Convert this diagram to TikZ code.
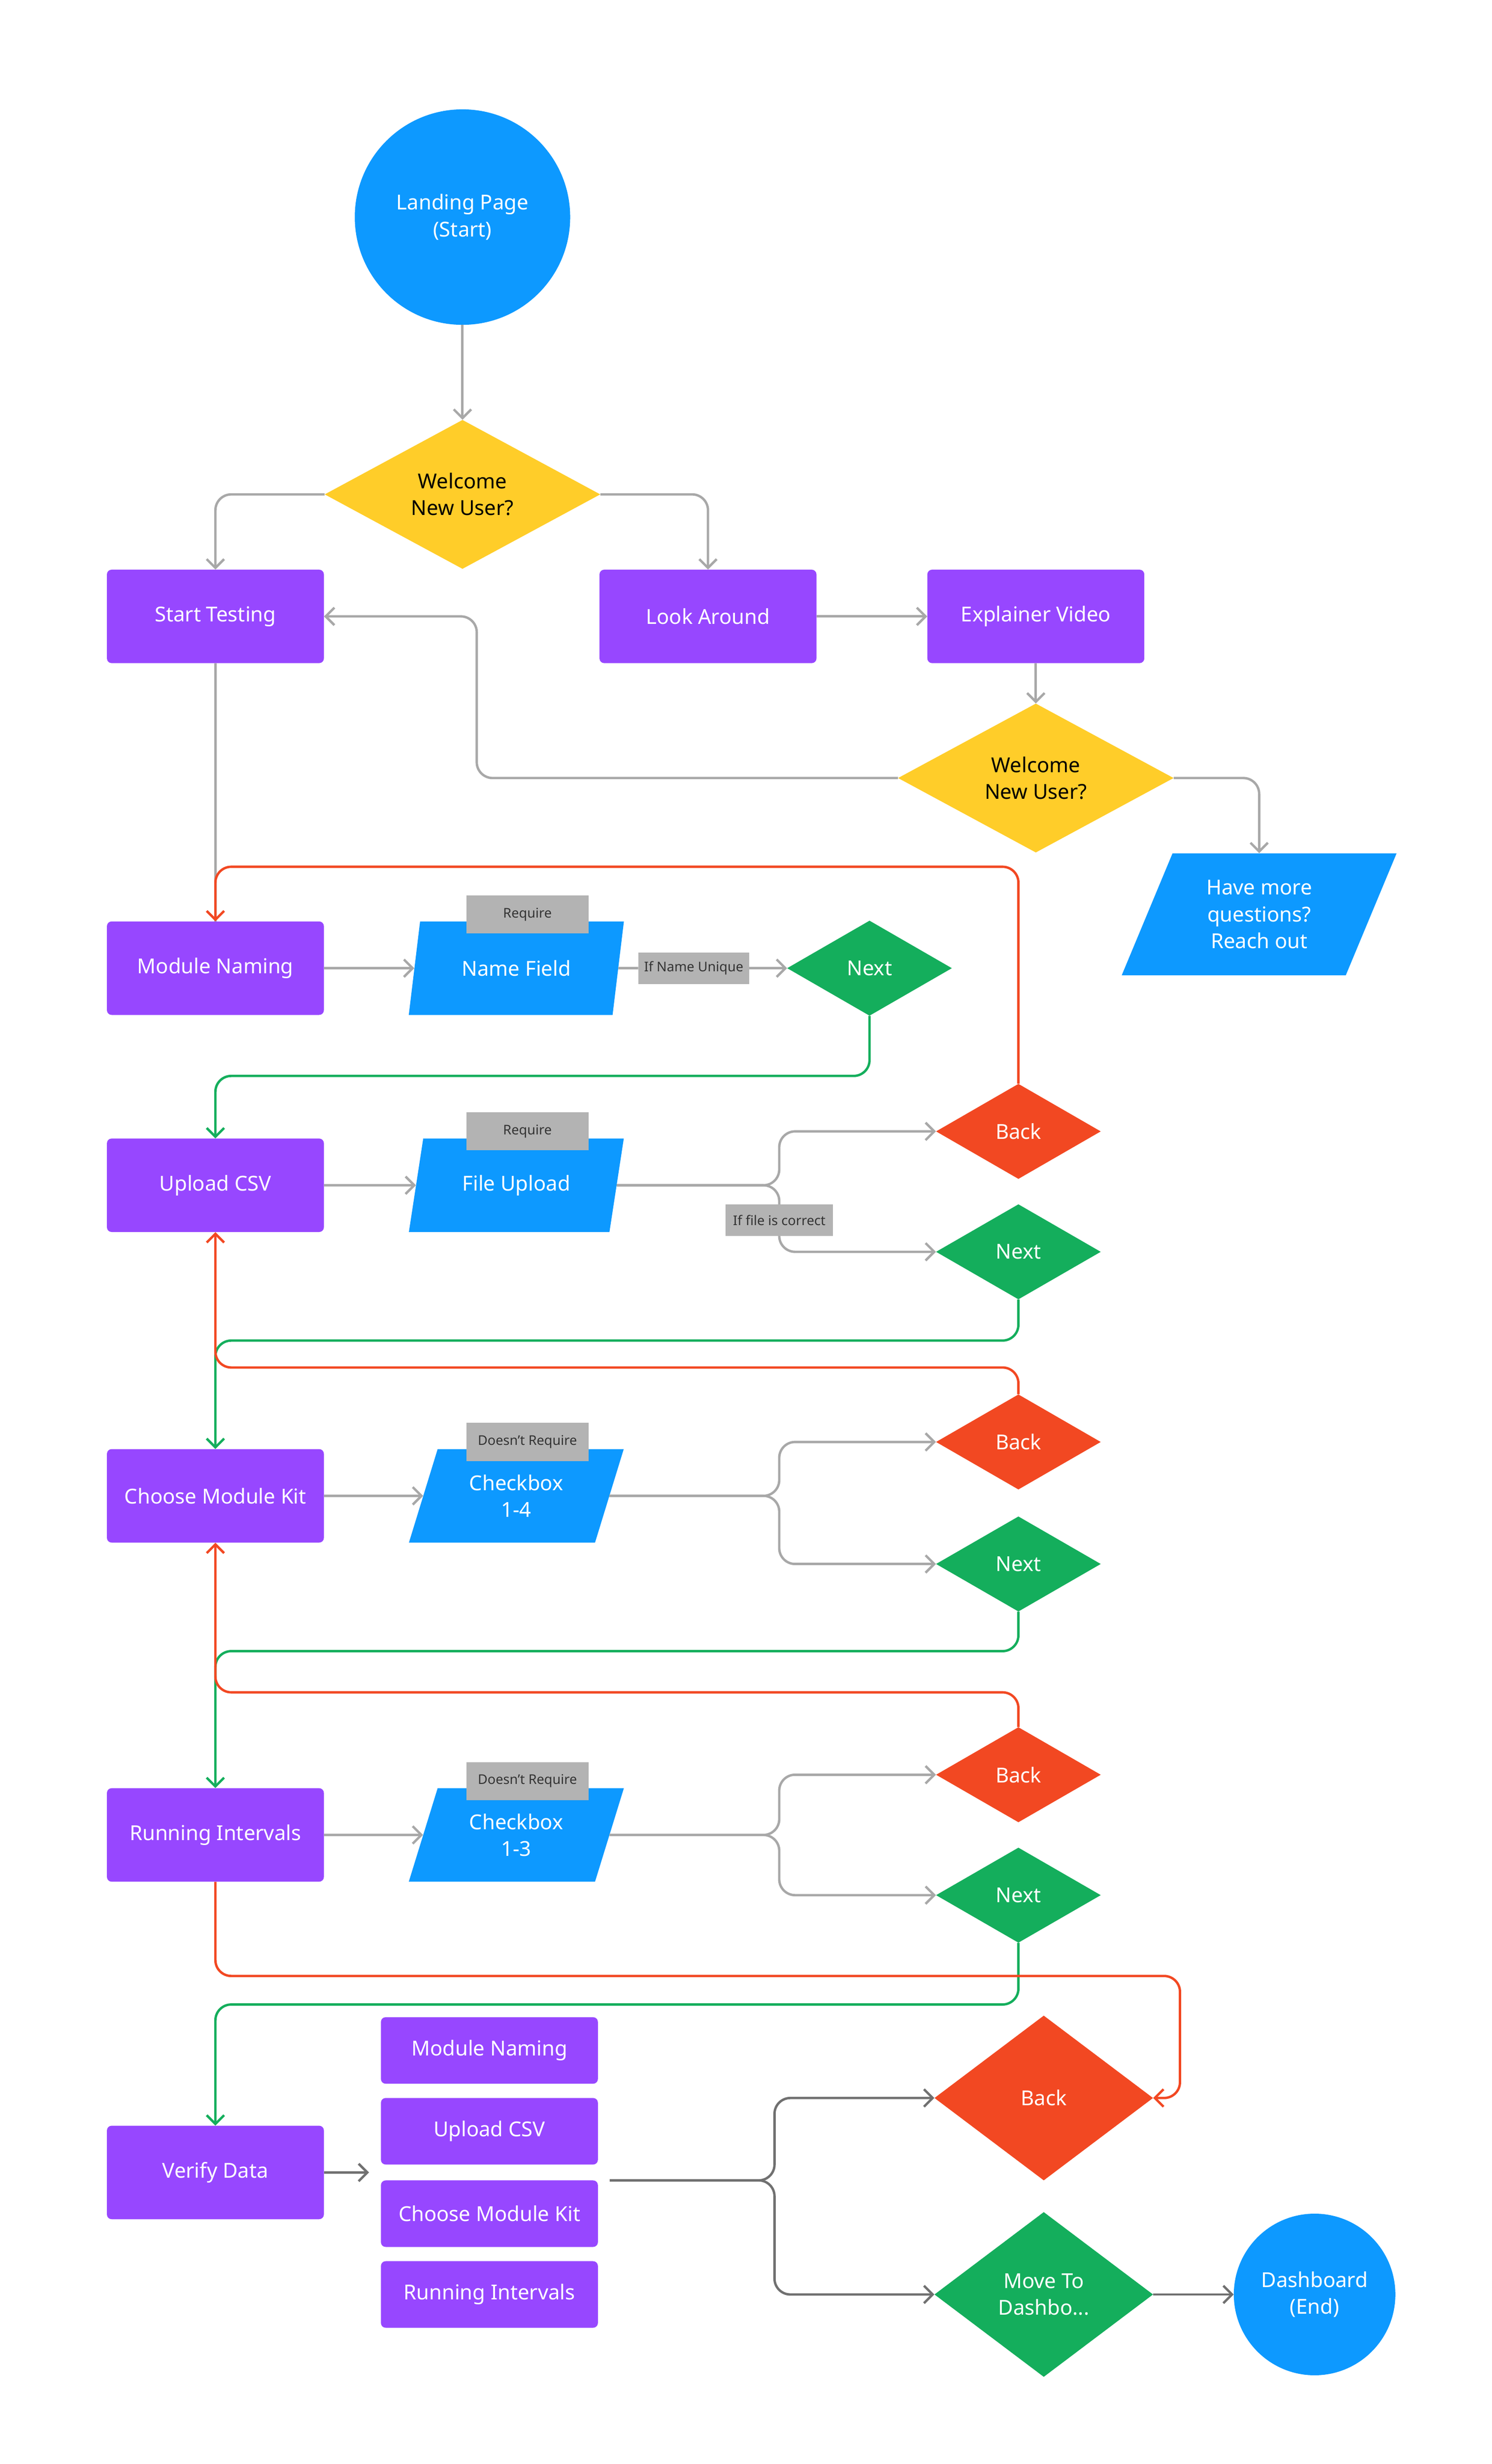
\documentclass[tikz,border=0pt]{standalone}
\usepackage{fontspec}
\setmainfont{Noto Sans}
\usetikzlibrary{shapes.geometric,arrows.meta}
\definecolor{pur}{HTML}{9747FF}
\definecolor{blu}{HTML}{0D99FF}
\definecolor{yel}{HTML}{FFCD29}
\definecolor{red}{HTML}{F24822}
\definecolor{grn}{HTML}{14AE5C}
\definecolor{gry}{HTML}{B3B3B3}
\definecolor{lgry}{HTML}{A8A8A8}
\definecolor{dgry}{HTML}{707070}
\begin{document}
\begin{tikzpicture}[x=0.1cm,y=-0.1cm,
 txt/.style={font=\fontsize{37}{48}\selectfont, align=center, text=white, inner sep=0},
 box/.style={txt, rectangle, fill=pur, rounded corners=0.3cm, minimum width=13.7cm, minimum height=5.9cm},
 sbox/.style={box, minimum height=4.2cm},
 dia/.style={txt, diamond, fill=#1, minimum width=10.4cm, minimum height=6cm},
 ydia/.style={txt, diamond, fill=yel, text=black, minimum width=17.4cm, minimum height=9.4cm},
 bdia/.style={txt, diamond, fill=#1, minimum width=13.8cm, minimum height=10.4cm},
 para/.style={txt, trapezium, fill=blu, trapezium left angle=68, trapezium right angle=112, trapezium stretches=true, minimum width=13.6cm, minimum height=5.9cm},
 circ/.style={txt, circle, fill=blu, minimum size=#1},
 tag/.style={rectangle, fill=gry, inner sep=0, font=\fontsize{24}{28}\selectfont, text=black!80, minimum height=2.4cm, minimum width=7.7cm},
 ln/.style={line width=4.3pt, rounded corners=1cm, draw=#1},
 arr/.style={ln=#1, -{Straight Barb[length=0.55cm,width=1.1cm,line width=4.3pt]}},
]
\useasboundingbox (0,0) rectangle (942,1555);
\fill[white] (0,0) rectangle (942,1555);
% nodes
\node[circ=13.6cm] (lp) at (292,137) {Landing Page\\(Start)};
\node[ydia] (d1) at (292,312) {Welcome\\New User?};
\node[box] (st) at (136,389) {Start Testing};
\node[box] (la) at (447,389) {Look Around};
\node[box] (ev) at (654,389) {Explainer Video};
\node[ydia] (d2) at (654,491) {Welcome\\New User?};
\node[para, trapezium left angle=65.6, trapezium right angle=114.4, minimum width=17.4cm, minimum height=7.7cm] (hq) at (795,577) {Have more\\questions?\\Reach out};
\node[box] (mn) at (136,611) {Module Naming};
\node[para] (nf) at (326,611) {Name Field};
\node[tag] (r1) at (333,577) {Require};
\node[tag, minimum width=7cm, minimum height=2cm] (iu) at (438,611) {If Name Unique};
\node[dia=grn] (n1) at (549,611) {Next};
\node[box] (uc) at (136,748) {Upload CSV};
\node[para] (fu) at (326,748) {File Upload};
\node[tag] (r2) at (333,714) {Require};
\node[dia=red] (b2) at (643,714) {Back};
\node[dia=grn] (n2) at (643,790) {Next};
\node[box] (ck) at (136,944) {Choose Module Kit};
\node[para] (c4) at (326,944) {Checkbox\\1-4};
\node[tag] (r3) at (333,910) {Doesn't Require};
\node[dia=red] (b3) at (643,910) {Back};
\node[dia=grn] (n3) at (643,987) {Next};
\node[box] (ri) at (136,1158) {Running Intervals};
\node[para] (c3) at (326,1158) {Checkbox\\1-3};
\node[tag] (r4) at (333,1124) {Doesn't Require};
\node[dia=red] (b4) at (643,1120) {Back};
\node[dia=grn] (n4) at (643,1196) {Next};
\node[box] (vd) at (136,1371) {Verify Data};
\node[sbox] (l1) at (309,1294) {Module Naming};
\node[sbox] (l2) at (309,1345) {Upload CSV};
\node[sbox] (l3) at (309,1397) {Choose Module Kit};
\node[sbox] (l4) at (309,1448) {Running Intervals};
\node[bdia=red] (b5) at (659,1324) {Back};
\node[bdia=grn] (md) at (659,1448) {Move To\\Dashbo...};
\node[circ=10.2cm] (db) at (830,1448) {Dashboard\\(End)};
\coordinate (va) at (233,1371);
\coordinate (ls) at (385,1376);
% grey connectors
\draw[arr=lgry] (lp.south) -- (d1.north);
\draw[arr=lgry] (d1.west) -| (st.north);
\draw[arr=lgry] (d1.east) -| (la.north);
\draw[arr=lgry] (la.east) -- (ev.west);
\draw[arr=lgry] (ev.south) -- (d2.north);
\draw[arr=lgry] (d2.west) -- (301,491) -- (301,389) -- (st.east);
\draw[arr=lgry] (d2.east) -| (hq.north);
\draw[ln=lgry] (st.south) -- (mn.north);
\draw[arr=lgry] (mn.east) -- (nf.west);
\draw[ln=lgry] (nf.east) -- (iu.west);
\draw[arr=lgry] (iu.east) -- (n1.west);
\draw[arr=lgry] (uc.east) -- (fu.west);
\draw[arr=lgry] (fu.east) -- (492,748) -- (492,714) -- (b2.west);
\draw[arr=lgry] (fu.east) -- (492,748) -- (492,790) -- (n2.west);
\node[tag, minimum width=6.8cm, minimum height=2cm] (fc) at (492,770) {If file is correct};
\draw[arr=lgry] (ck.east) -- (c4.west);
\draw[arr=lgry] (c4.east) -- (492,944) -- (492,910) -- (b3.west);
\draw[arr=lgry] (c4.east) -- (492,944) -- (492,987) -- (n3.west);
\draw[arr=lgry] (ri.east) -- (c3.west);
\draw[arr=lgry] (c3.east) -- (492,1158) -- (492,1120) -- (b4.west);
\draw[arr=lgry] (c3.east) -- (492,1158) -- (492,1196) -- (n4.west);
\draw[arr=dgry] (vd.east) -- (va);
\draw[arr=dgry] (ls) -- (489,1376) -- (489,1324) -- (b5.west);
\draw[arr=dgry] (ls) -- (489,1376) -- (489,1448) -- (md.west);
\draw[arr=dgry] (md.east) -- (db.west);
% green
\draw[arr=grn] (n1.south) -- (549,679) -- (136,679) -- (uc.north);
\draw[arr=grn] (n2.south) -- (643,846) -- (136,846) -- (ck.north);
\draw[arr=grn] (n3.south) -- (643,1042) -- (136,1042) -- (ri.north);
\draw[arr=grn] (n4.south) -- (643,1265) -- (136,1265) -- (vd.north);
% red
\draw[arr=red] (b2.north) -- (643,547) -- (136,547) -- (mn.north);
\draw[arr=red] (b3.north) -- (643,863) -- (136,863) -- (uc.south);
\draw[arr=red] (b4.north) -- (643,1068) -- (136,1068) -- (ck.south);
\draw[arr=red] (ri.south) -- (136,1247) -- (745,1247) -- (745,1324) -- (b5.east);
\end{tikzpicture}
\end{document}
